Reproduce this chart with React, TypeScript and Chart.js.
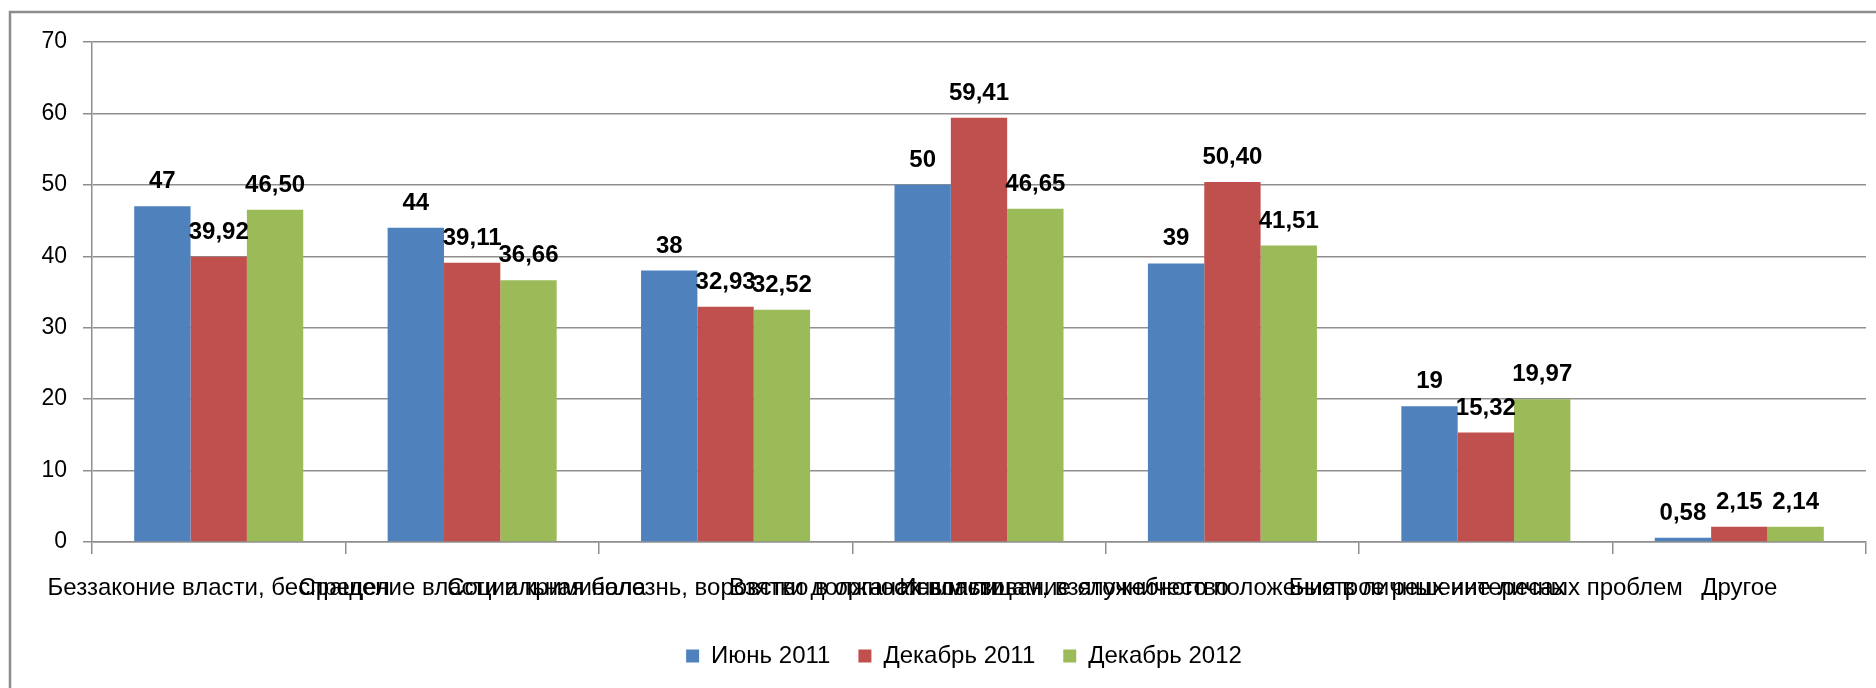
import React, { useEffect, useRef } from "react";
import { Chart, registerables } from "chart.js";

Chart.register(...registerables);

const categories = [
  "Беззаконие власти, беспредел",
  "Сращение власти и криминала",
  "Социальная болезнь, воровство в органах власти",
  "Взятки должностным лицам, взяточничество",
  "Использование служебного положения в личных интересах",
  "Быстрое решение личных проблем",
  "Другое",
];

const seriesNames = ["Июнь 2011", "Декабрь 2011", "Декабрь 2012"];
const june2011 = [47, 44, 38, 50, 39, 19, 0.58];
const dec2011 = [39.92, 39.11, 32.93, 59.41, 50.4, 15.32, 2.15];
const dec2012 = [46.5, 36.66, 32.52, 46.65, 41.51, 19.97, 2.14];
const seriesColors = ["#4F81BD", "#C0504D", "#9BBB59"];
const yTicks = [0, 10, 20, 30, 40, 50, 60, 70];

const fmt = (v: number, ds: number) =>
  ds === 0 ? String(v).replace(".", ",") : v.toFixed(2).replace(".", ",");

const framePlugin = {
  id: "frame",
  beforeDraw(chart: any) {
    const ctx = chart.ctx;
    ctx.save();
    ctx.fillStyle = "#ffffff";
    ctx.fillRect(0, 0, chart.width, chart.height);
    ctx.strokeStyle = "#8c8c8c";
    ctx.lineWidth = 2.5;
    ctx.strokeRect(10, 12, chart.width + 20, chart.height + 20);
    ctx.restore();
  },
};

const valueLabels = {
  id: "valueLabels",
  afterDatasetsDraw(chart: any) {
    const ctx = chart.ctx;
    ctx.save();
    ctx.font = 'bold 24px "Liberation Sans"';
    ctx.fillStyle = "#000000";
    ctx.textAlign = "center";
    ctx.textBaseline = "alphabetic";
    chart.data.datasets.forEach((ds: any, di: number) => {
      const meta = chart.getDatasetMeta(di);
      meta.data.forEach((el: any, i: number) => {
        const v = ds.data[i];
        ctx.fillText(fmt(v, di), el.x, el.y - 18);
      });
    });
    ctx.restore();
  },
};

export default function App() {
  const ref = useRef<HTMLCanvasElement>(null);
  useEffect(() => {
    document.body.style.margin = "0";
    const gray = "#8f8f8f";
    const chart = new Chart(ref.current as HTMLCanvasElement, {
      type: "bar",
      data: {
        labels: categories,
        datasets: [june2011, dec2011, dec2012].map((d, i) => ({
          label: seriesNames[i],
          data: d,
          backgroundColor: seriesColors[i],
          borderWidth: 0,
          categoryPercentage: 0.667,
          barPercentage: 1,
        })),
      },
      options: {
        responsive: false,
        animation: false,
        layout: { padding: { left: 62, top: 42, right: 10, bottom: 10 } },
        plugins: {
          tooltip: { enabled: false },
          legend: {
            position: "bottom",
            labels: {
              font: { family: "Liberation Sans", size: 24 },
              color: "#000",
              boxWidth: 13,
              boxHeight: 13,
              padding: 28,
            },
          },
        },
        scales: {
          x: {
            grid: {
              display: true,
              drawOnChartArea: false,
              drawTicks: true,
              tickLength: 12,
              color: gray,
              lineWidth: 1.5,
              offset: true,
            },
            border: { display: true, color: gray, width: 1.5 },
            ticks: {
              autoSkip: false,
              maxRotation: 0,
              minRotation: 0,
              padding: 20,
              color: "#000",
              font: { family: "Liberation Sans", size: 24 },
            },
            afterFit(scale: any) {
              scale.height = 74;
            },
          },
          y: {
            min: 0,
            max: 70,
            afterBuildTicks(scale: any) {
              scale.ticks = yTicks.map((v) => ({ value: v }));
            },
            grid: {
              color: gray,
              lineWidth: 1.5,
              tickLength: 9,
              drawTicks: true,
            },
            border: { display: true, color: gray, width: 1.5 },
            ticks: {
              padding: 16,
              color: "#000",
              font: { family: "Liberation Sans", size: 23 },
            },
            afterFit(scale: any) {
              scale.width = 30;
              scale._computeLabelArea = () => undefined;
            },
          },
        },
      },
      plugins: [framePlugin, valueLabels],
    });
    return () => chart.destroy();
  }, []);
  return (
    <div style={{ width: 1876, height: 688 }}>
      <canvas ref={ref} width={1876} height={688} style={{ display: "block" }} />
    </div>
  );
}
